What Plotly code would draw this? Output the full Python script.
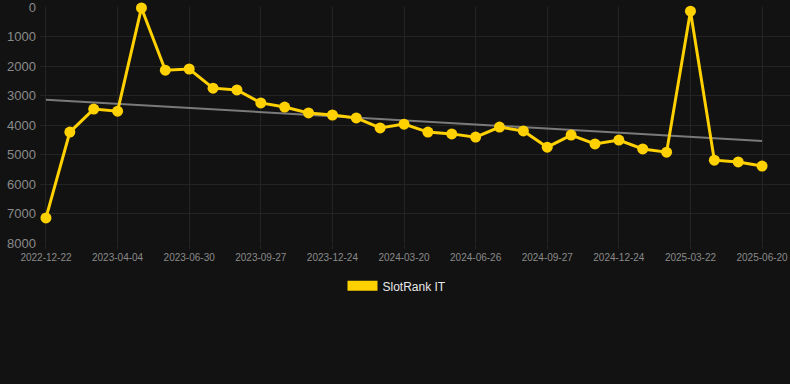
import numpy as np
import plotly.graph_objects as go

dates = [
    "2022-12-22", "2023-01-26", "2023-03-02", "2023-04-04", "2023-05-03", "2023-06-01",
    "2023-06-30", "2023-07-29", "2023-08-28", "2023-09-27", "2023-10-26", "2023-11-25",
    "2023-12-24", "2024-01-22", "2024-02-20", "2024-03-20", "2024-04-23", "2024-05-25",
    "2024-06-26", "2024-07-28", "2024-08-27", "2024-09-27", "2024-10-26", "2024-11-25",
    "2024-12-24", "2025-01-22", "2025-02-20", "2025-03-22", "2025-04-21", "2025-05-21",
    "2025-06-20",
]
rank = [
    7150, 4240, 3460, 3530, 30, 2140, 2100, 2750, 2810, 3250, 3390, 3590,
    3660, 3760, 4100, 3970, 4240, 4300, 4410, 4070, 4200, 4750, 4340, 4640,
    4510, 4810, 4920, 140, 5190, 5250, 5390,
]
tick_labels = dates[::3]
y_ticks = [0, 1000, 2000, 3000, 4000, 5000, 6000, 7000, 8000]
series_name = "SlotRank IT"

idx = np.arange(len(rank))
slope, intercept = np.polyfit(idx, rank, 1)
trend = [intercept + slope * idx[0], intercept + slope * idx[-1]]

yellow = "#FFD100"
bg = "#121212"
grid = "#242424"
tick_col = "#8a8a8a"

fig = go.Figure()
fig.add_trace(go.Scatter(
    x=[dates[0], dates[-1]], y=trend, mode="lines",
    line=dict(color="#7a7a7a", width=2), showlegend=False, hoverinfo="skip",
))
fig.add_trace(go.Scatter(
    x=dates, y=rank, mode="lines+markers",
    line=dict(color=yellow, width=3),
    marker=dict(color=yellow, size=11),
    showlegend=False, name=series_name, cliponaxis=False,
))
fig.add_trace(go.Scatter(
    x=[None], y=[None], mode="lines",
    line=dict(color=yellow, width=12), name=series_name,
))

fig.update_layout(
    width=790, height=384,
    paper_bgcolor=bg, plot_bgcolor=bg,
    margin=dict(l=40, r=0, t=7, b=141),
    font=dict(family="Liberation Sans, Arial, sans-serif", color=tick_col),
    xaxis=dict(
        type="category", categoryorder="array", categoryarray=dates,
        tickmode="array", tickvals=tick_labels, ticktext=tick_labels,
        range=[-0.25, 31.17], automargin=False,
        showgrid=True, gridcolor=grid, gridwidth=1,
        zeroline=False, showline=False,
        ticks="outside", ticklen=5, tickcolor=grid,
        tickfont=dict(size=10, color=tick_col),
        ticklabeloverflow="allow",
    ),
    yaxis=dict(
        range=[8000, -2], tickvals=y_ticks, automargin=False,
        showgrid=True, gridcolor=grid, gridwidth=1,
        zeroline=False, showline=False,
        tickfont=dict(size=13, color=tick_col),
        ticklabelstandoff=3, ticklabeloverflow="allow",
    ),
    legend=dict(
        orientation="h", x=0.476, xanchor="center", y=-0.12, yanchor="top",
        font=dict(size=12, color="#e8e8e8"), bgcolor="rgba(0,0,0,0)",
    ),
)

fig.write_html(
    "out.html",
    config={"displayModeBar": False},
    post_script="document.body.style.margin='0';document.body.style.background='%s';" % bg,
)
